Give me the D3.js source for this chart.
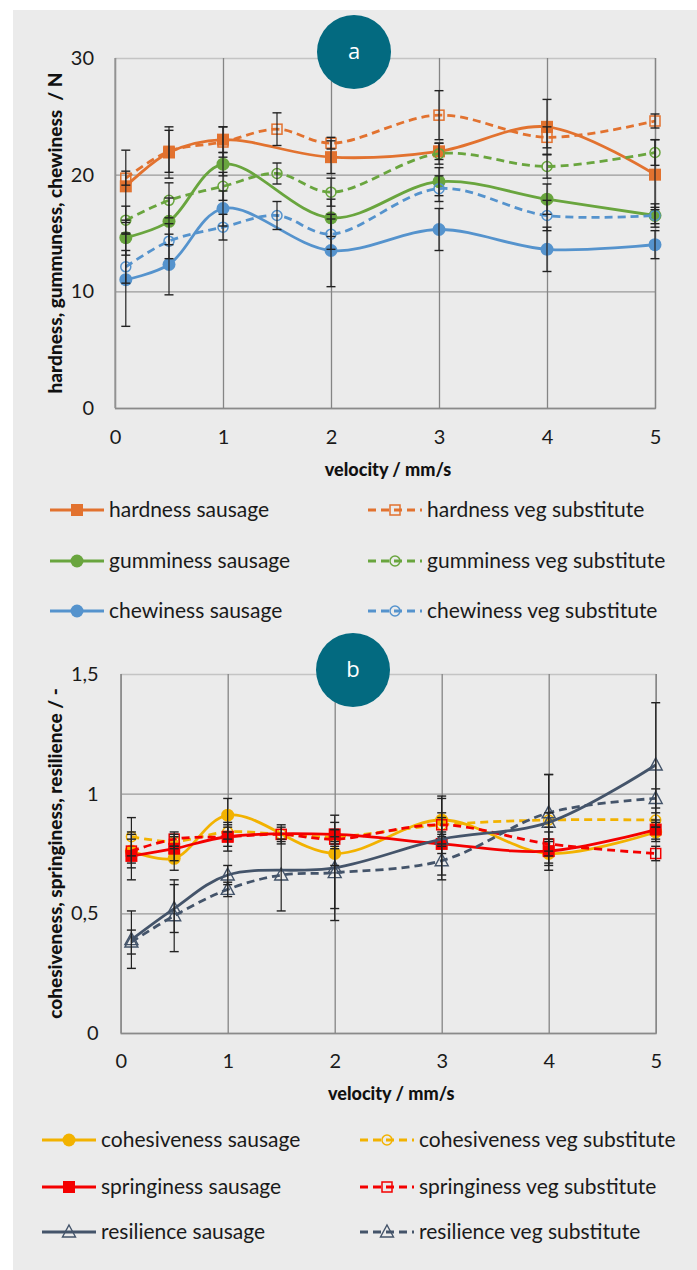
<!DOCTYPE html>
<html>
<head>
<meta charset="utf-8">
<script src="https://cdn.jsdelivr.net/npm/d3@7"></script>
<style>
  body { margin: 0; background: #fff; }
  svg { display: block; font-family: Lato, "Open Sans", sans-serif; }
</style>
</head>
<body>
<script>
// velocities (mm/s)
const velSausage = [0.1, 0.5, 1, 2, 3, 4, 5];
const velVeg = [0.1, 0.5, 1, 1.5, 2, 3, 4, 5];

// panel a (N)
const hardnessSausage = [19.0, 21.9, 23.0, 21.5, 22.0, 24.1, 20.0];
const hardnessSausageErr = [3.1, 2.2, 1.1, 1.4, 0.7, 2.35, 3.0];
const hardnessVeg = [19.7, 22.0, 22.8, 23.9, 22.7, 25.1, 23.2, 24.6];
const hardnessVegErr = [0.6, 1.8, 1.3, 1.4, 0.5, 2.1, 0.9, 0.6];
const gumminessSausage = [14.6, 16.0, 20.9, 16.3, 19.4, 17.9, 16.5];
const gumminessSausageErr = [1.5, 2.0, 1.0, 1.6, 1.2, 1.3, 1.0];
const gumminessVeg = [16.1, 17.8, 19.0, 20.1, 18.5, 21.8, 20.7, 21.9];
const gumminessVegErr = [1.2, 1.5, 1.2, 0.9, 1.2, 0.9, 1.0, 1.1];
const chewinessSausage = [11.0, 12.3, 17.1, 13.5, 15.3, 13.6, 14.0];
const chewinessSausageErr = [4.0, 2.6, 1.5, 3.1, 1.8, 1.9, 1.2];
const chewinessVeg = [12.1, 14.3, 15.5, 16.5, 14.9, 18.8, 16.5, 16.5];
const chewinessVegErr = [1.4, 1.5, 1.1, 1.2, 1.3, 1.1, 1.3, 0.7];

// panel b (-)
const cohesivenessSausage = [0.76, 0.73, 0.91, 0.75, 0.89, 0.75, 0.84];
const cohesivenessSausageErr = [0.05, 0.05, 0.07, 0.05, 0.1, 0.05, 0.04];
const cohesivenessVeg = [0.82, 0.80, 0.84, 0.83, 0.82, 0.87, 0.89, 0.89];
const cohesivenessVegErr = [0.08, 0.03, 0.03, 0.04, 0.03, 0.05, 0.03, 0.03];
const springinessSausage = [0.74, 0.77, 0.82, 0.83, 0.79, 0.76, 0.85];
const springinessSausageErr = [0.1, 0.05, 0.06, 0.05, 0.04, 0.05, 0.04];
const springinessVeg = [0.76, 0.81, 0.82, 0.83, 0.81, 0.87, 0.79, 0.75];
const springinessVegErr = [0.07, 0.03, 0.04, 0.03, 0.04, 0.03, 0.05, 0.03];
const resilienceSausage = [0.39, 0.52, 0.66, 0.69, 0.81, 0.88, 1.12];
const resilienceSausageErr = [0.12, 0.1, 0.04, 0.22, 0.17, 0.2, 0.26];
const resilienceVeg = [0.38, 0.49, 0.60, 0.66, 0.67, 0.72, 0.92, 0.98];
const resilienceVegErr = [0.05, 0.15, 0.03, 0.15, 0.15, 0.06, 0.16, 0.04];

const xTicks = [0, 1, 2, 3, 4, 5];
const yTicksA = [0, 10, 20, 30];
const yTicksB = [0, 0.5, 1, 1.5];
const yLabelsB = ["0", "0,5", "1", "1,5"];

const W = 697, H = 1270;
const svg = d3.select("body").append("svg").attr("width", W).attr("height", H);
svg.append("rect").attr("x", 13).attr("y", 10).attr("width", W - 13).attr("height", H - 10).attr("fill", "#ebebeb");

function marker(g, shape, x, y, color) {
  if (shape == "square") {
    g.append("rect").attr("x", x - 6).attr("y", y - 6).attr("width", 12).attr("height", 12).attr("fill", color);
  } else if (shape == "osquare") {
    g.append("rect").attr("x", x - 5).attr("y", y - 5).attr("width", 10).attr("height", 10)
      .attr("fill", "none").attr("stroke", color).attr("stroke-width", 1.5);
  } else if (shape == "circle") {
    g.append("circle").attr("cx", x).attr("cy", y).attr("r", 6.5).attr("fill", color);
  } else if (shape == "ocircle") {
    g.append("circle").attr("cx", x).attr("cy", y).attr("r", 5).attr("fill", "none")
      .attr("stroke", color).attr("stroke-width", 1.5);
  } else if (shape == "triangle") {
    g.append("path").attr("d", `M${x},${y - 7}L${x + 6.5},${y + 5}L${x - 6.5},${y + 5}Z`)
      .attr("fill", "none").attr("stroke", color).attr("stroke-width", 1.4);
  }
}

function drawPanel(p) {
  const x = d3.scaleLinear().domain([0, 5]).range([p.left, p.right]);
  const y = d3.scaleLinear().domain(p.yDomain).range([p.bottom, p.top]);
  const g = svg.append("g");

  // horizontal gridlines + y labels
  const ya = g.append("g").attr("transform", `translate(${p.left},0)`)
    .call(d3.axisLeft(y).tickValues(p.yTicks).tickSize(-(p.right - p.left)).tickPadding(p.yPad)
      .tickFormat((d, i) => p.yLabels[i]));
  ya.select(".domain").remove();
  ya.selectAll("line").attr("stroke", (d, i) => i == p.yTicks.length - 1 ? "#c4c4c4" : "#9a9a9a").attr("stroke-width", 1.3);
  ya.selectAll("text").attr("font-size", 20).attr("fill", "#1a1a1a").style("font-family", "Lato");

  // vertical gridlines + x labels
  const xa = g.append("g").attr("transform", `translate(0,${p.bottom})`)
    .call(d3.axisBottom(x).tickValues(xTicks).tickSize(-(p.bottom - p.top)).tickPadding(p.xPad)
      .tickFormat(d3.format("d")));
  xa.select(".domain").attr("stroke", "#8a8a8a").attr("stroke-width", 1.3);
  xa.selectAll("line").attr("stroke", "#858585").attr("stroke-width", 1.3);
  xa.selectAll("text").attr("font-size", 20).attr("fill", "#1a1a1a").style("font-family", "Lato");

  g.append("line").attr("x1", p.left).attr("x2", p.left).attr("y1", p.top).attr("y2", p.bottom)
    .attr("stroke", "#9a9a9a").attr("stroke-width", 1.3);

  // titles
  g.append("text").attr("x", (p.left + p.right) / 2 + 3).attr("y", p.xTitleY).attr("text-anchor", "middle")
    .attr("font-size", 18).attr("font-weight", 900).attr("fill", "#111").text("velocity / mm/s");
  g.append("text").attr("transform", `translate(${p.yTitleX},${(p.top + p.bottom) / 2}) rotate(-90)`)
    .attr("text-anchor", "middle").attr("font-size", p.yTitleSize).attr("font-weight", 900).attr("fill", "#111")
    .attr("xml:space", "preserve").text(p.yTitle);

  const line = d3.line().x(d => x(d[0])).y(d => y(d[1])).curve(d3.curveCatmullRom.alpha(0.5));

  p.series.forEach(s => {
    const pts = s.xs.map((v, i) => [v, s.ys[i], s.err[i]]);
    g.append("path").datum(pts).attr("d", line).attr("fill", "none").attr("stroke", s.color)
      .attr("stroke-width", 2.8).attr("stroke-dasharray", s.dash ? "8,5" : null);
    pts.forEach(d => marker(g, s.shape, x(d[0]), y(d[1]), s.color));
  });

  // error bars
  p.series.forEach(s => {
    s.xs.forEach((v, i) => {
      const cx = x(v), y0 = y(s.ys[i] - s.err[i]), y1 = y(s.ys[i] + s.err[i]);
      g.append("line").attr("x1", cx).attr("x2", cx).attr("y1", y0).attr("y2", y1)
        .attr("stroke", "#222").attr("stroke-width", 1.2);
      [y0, y1].forEach(yy => g.append("line").attr("x1", cx - 4.5).attr("x2", cx + 4.5)
        .attr("y1", yy).attr("y2", yy).attr("stroke", "#222").attr("stroke-width", 1.4));
    });
  });

  // badge
  g.append("circle").attr("cx", p.badge[0]).attr("cy", p.badge[1]).attr("r", 37).attr("fill", "#036a80");
  g.append("text").attr("x", p.badge[0]).attr("y", p.badge[1] + 7).attr("text-anchor", "middle")
    .attr("font-size", 22).attr("fill", "#fff").style("font-family", "Open Sans").text(p.badgeText);

  // legend
  p.series.forEach((s, i) => {
    const col = i % 2, row = Math.floor(i / 2);
    const lx = p.legX[col], ly = p.legY[row];
    g.append("line").attr("x1", lx).attr("x2", lx + 54).attr("y1", ly).attr("y2", ly)
      .attr("stroke", s.color).attr("stroke-width", 2.8).attr("stroke-dasharray", s.dash ? "8,5" : null);
    marker(g, s.shape, lx + 27, ly, s.color);
    g.append("text").attr("x", lx + 59).attr("y", ly + 7).attr("font-size", 21).attr("fill", "#1a1a1a").text(s.name);
  });
}

drawPanel({
  left: 115, right: 655, top: 58, bottom: 408, yDomain: [0, 30],
  yTicks: yTicksA, yLabels: yTicksA.map(String), yPad: 21, xPad: 22,
  xTitleY: 476, yTitleX: 62, yTitleSize: 19, yTitle: "hardness, gummuness, chewiness  / N",
  badge: [354, 52], badgeText: "a",
  legX: [50, 368], legY: [510, 561, 611],
  series: [
    { name: "hardness sausage", xs: velSausage, ys: hardnessSausage, err: hardnessSausageErr, color: "#e2722f", shape: "square", dash: false },
    { name: "hardness veg substitute", xs: velVeg, ys: hardnessVeg, err: hardnessVegErr, color: "#e2722f", shape: "osquare", dash: true },
    { name: "gumminess sausage", xs: velSausage, ys: gumminessSausage, err: gumminessSausageErr, color: "#69a53e", shape: "circle", dash: false },
    { name: "gumminess veg substitute", xs: velVeg, ys: gumminessVeg, err: gumminessVegErr, color: "#69a53e", shape: "ocircle", dash: true },
    { name: "chewiness sausage", xs: velSausage, ys: chewinessSausage, err: chewinessSausageErr, color: "#5593cd", shape: "circle", dash: false },
    { name: "chewiness veg substitute", xs: velVeg, ys: chewinessVeg, err: chewinessVegErr, color: "#5593cd", shape: "ocircle", dash: true }
  ]
});

drawPanel({
  left: 120.7, right: 655.7, top: 674, bottom: 1033, yDomain: [0, 1.5],
  yTicks: yTicksB, yLabels: yLabelsB, yPad: 22, xPad: 21,
  xTitleY: 1100, yTitleX: 62, yTitleSize: 19, yTitle: "cohesiveness, springiness, resilience / -",
  badge: [353, 670], badgeText: "b",
  legX: [42, 360], legY: [1140, 1187, 1232],
  series: [
    { name: "cohesiveness sausage", xs: velSausage, ys: cohesivenessSausage, err: cohesivenessSausageErr, color: "#f2b200", shape: "circle", dash: false },
    { name: "cohesiveness veg substitute", xs: velVeg, ys: cohesivenessVeg, err: cohesivenessVegErr, color: "#f2b200", shape: "ocircle", dash: true },
    { name: "springiness sausage", xs: velSausage, ys: springinessSausage, err: springinessSausageErr, color: "#f40000", shape: "square", dash: false },
    { name: "springiness veg substitute", xs: velVeg, ys: springinessVeg, err: springinessVegErr, color: "#f40000", shape: "osquare", dash: true },
    { name: "resilience sausage", xs: velSausage, ys: resilienceSausage, err: resilienceSausageErr, color: "#44546a", shape: "triangle", dash: false },
    { name: "resilience veg substitute", xs: velVeg, ys: resilienceVeg, err: resilienceVegErr, color: "#44546a", shape: "triangle", dash: true }
  ]
});
</script>
</body>
</html>
